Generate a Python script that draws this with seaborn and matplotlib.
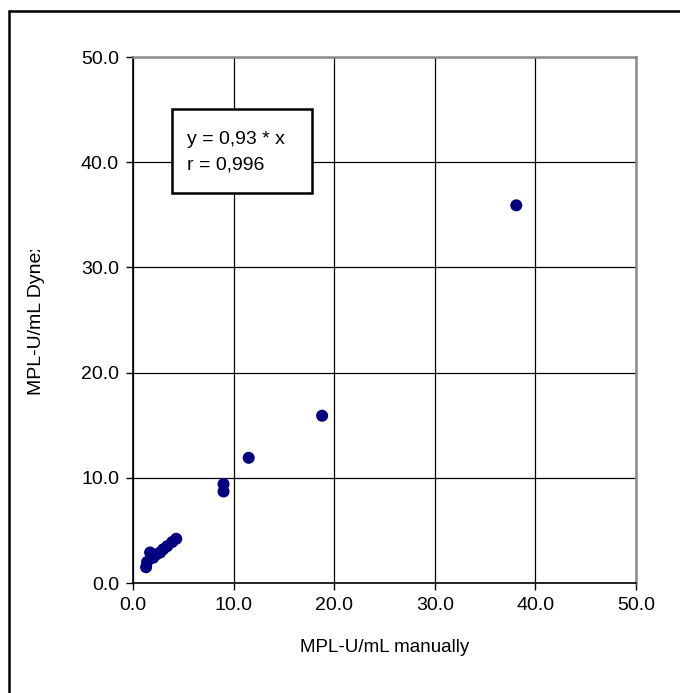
import matplotlib
matplotlib.use("Agg")
import matplotlib.pyplot as plt
import seaborn as sns
from matplotlib.patches import Rectangle
from matplotlib.lines import Line2D

# values
manual = [1.3, 1.4, 1.7, 2.0, 2.3, 2.7, 3.0, 3.4, 3.9, 4.3, 9.0, 9.0, 11.5, 18.8, 38.1]
dynex = [1.5, 2.0, 2.9, 2.4, 2.7, 2.9, 3.2, 3.5, 3.9, 4.2, 9.4, 8.7, 11.9, 15.9, 35.9]
ticks = [0, 10, 20, 30, 40, 50]
tick_labels = ['0.0', '10.0', '20.0', '30.0', '40.0', '50.0']
fit_text = ['y = 0,93 * x', 'r = 0,996']

sns.set_style('white')
plt.rcParams['font.family'] = ['Liberation Sans', 'DejaVu Sans']
plt.rcParams['text.color'] = 'black'
plt.rcParams['axes.labelcolor'] = 'black'
plt.rcParams['xtick.color'] = 'black'
plt.rcParams['ytick.color'] = 'black'

W, H = 680, 693
fig = plt.figure(figsize=(W / 100, H / 100), dpi=100)
ax = fig.add_axes([133 / W, (H - 583) / H, (636 - 133) / W, (583 - 57) / H])

sns.scatterplot(x=manual, y=dynex, color='#000080', s=75, edgecolor='none', ax=ax, zorder=3)

ax.set_xlim(0, 50)
ax.set_ylim(0, 50)
ax.set_xticks(ticks)
ax.set_yticks(ticks)
ax.set_xticklabels(tick_labels, fontsize=14)
ax.set_yticklabels(tick_labels, fontsize=14)
ax.grid(True, color='black', linewidth=0.9)
ax.tick_params(axis='both', direction='out', length=5, width=1, color='black', pad=5,
               bottom=True, left=True)
for side in ['left', 'bottom']:
    ax.spines[side].set_color('black')
    ax.spines[side].set_linewidth(1.2)
for side in ['top', 'right']:
    ax.spines[side].set_color('#8c8c8c')
    ax.spines[side].set_linewidth(1.8)

ax.set_xlabel('MPL-U/mL manually', fontsize=13.5, labelpad=18)
ax.set_ylabel('')

# y label, its end is hidden like in the original
fig.text(37 / W, (H - 318) / H, 'MPL-U/mL Dynex', rotation=90, fontsize=14,
         ha='center', va='center', zorder=3)
fig.add_artist(Rectangle((20 / W, (H - 250) / H), 35 / W, 40 / H, transform=fig.transFigure,
                         facecolor='white', edgecolor='none', zorder=4))

# box with fit results
fig.add_artist(Rectangle((172 / W, (H - 193) / H), 140 / W, 84 / H, transform=fig.transFigure,
                         facecolor='white', edgecolor='black', linewidth=1.8, zorder=5))
fig.text(187 / W, (H - 140) / H, fit_text[0], fontsize=14, va='center', zorder=6)
fig.text(187 / W, (H - 165) / H, fit_text[1], fontsize=14, va='center', zorder=6)

# outer chart frame (only left and top edges inside the picture)
fig.add_artist(Line2D([9 / W, 9 / W], [0, (H - 11) / H], transform=fig.transFigure,
                      color='black', linewidth=1.8))
fig.add_artist(Line2D([9 / W, 1], [(H - 11) / H, (H - 11) / H], transform=fig.transFigure,
                      color='black', linewidth=1.8))

fig.savefig('out.png', dpi=100)
